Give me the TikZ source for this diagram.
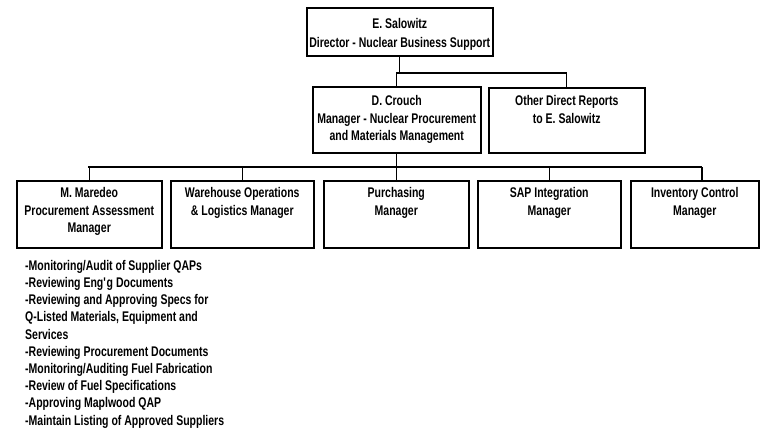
\documentclass[tikz,border=0pt]{standalone}
\usepackage{fontspec}
\setmainfont{Liberation Sans}[FakeStretch=0.75]
\begin{document}
\begin{tikzpicture}[x=1pt,y=-1pt,
  box/.style={draw, line width=1.5pt, inner sep=0pt, anchor=north west},
  boxtext/.style={anchor=north, align=center, inner sep=0pt, font=\fontsize{14}{17.8}\selectfont\bfseries},
  conn/.style={line width=1.2pt}]
\useasboundingbox (0,0) rectangle (760,437);
% top
\node[box, minimum width=186pt, minimum height=48pt] (top) at (306,7) {};
\node[boxtext, font=\fontsize{14}{19}\selectfont\bfseries] (topt) at ([yshift=-11pt]top.north) {E. Salowitz\\Director - Nuclear Business Support};
% second level
\node[box, minimum width=168pt, minimum height=66pt] (crouch) at (312,86) {};
\node[boxtext] (croucht) at ([yshift=-9pt]crouch.north) {D. Crouch\\Manager - Nuclear Procurement\\and Materials Management};
\node[box, minimum width=156pt, minimum height=65pt] (other) at (488,87) {};
\node[boxtext] (othert) at ([yshift=-8pt]other.north) {Other Direct Reports\\to E. Salowitz};
% third level
\node[box, minimum width=145pt, minimum height=67pt] (b1) at (16,180) {};
\node[boxtext] (b1t) at ([yshift=-7pt]b1.north) {M. Maredeo\\Procurement Assessment\\Manager};
\node[box, minimum width=143pt, minimum height=67pt] (b2) at (170,180) {};
\node[boxtext] (b2t) at ([yshift=-7pt]b2.north) {Warehouse Operations\\\& Logistics Manager};
\node[box, minimum width=145pt, minimum height=67pt] (b3) at (323,180) {};
\node[boxtext] (b3t) at ([yshift=-7pt]b3.north) {Purchasing\\Manager};
\node[box, minimum width=143pt, minimum height=67pt] (b4) at (477,180) {};
\node[boxtext] (b4t) at ([yshift=-7pt]b4.north) {SAP Integration\\Manager};
\node[box, minimum width=128pt, minimum height=67pt] (b5) at (630,180) {};
\node[boxtext] (b5t) at ([yshift=-7pt]b5.north) {Inventory Control\\Manager};
% connectors
\coordinate (j1) at (398,73);
\coordinate (d1) at (88,167);
\coordinate (d5) at (702,167);
\draw[conn] (top.south) -- (top.south |- j1);
\draw[conn] (crouch.north) -- (crouch.north |- j1) -| (other.north);
\draw[conn] (crouch.south) -- (crouch.south |- d1);
\draw[conn] (d1) -- (d5);
\draw[conn] (b1.north) -- (b1.north |- d1);
\draw[conn] (b2.north) -- (b2.north |- d1);
\draw[conn] (b3.north) -- (b3.north |- d1);
\draw[conn] (b4.north) -- (b4.north |- d1);
\draw[conn] (b5.north -| d5) -- (d5);
% duties list
\node[anchor=north west, align=left, inner sep=0pt, font=\fontsize{14}{17.2}\selectfont\bfseries] (duties) at (25,260)
{-Monitoring/Audit of Supplier QAPs\\
-Reviewing Eng\textquotesingle g Documents\\
-Reviewing and Approving Specs for\\
Q-Listed Materials, Equipment and\\
Services\\
-Reviewing Procurement Documents\\
-Monitoring/Auditing Fuel Fabrication\\
-Review of Fuel Specifications\\
-Approving Maplwood QAP\\
-Maintain Listing of Approved Suppliers};
\end{tikzpicture}
\end{document}
